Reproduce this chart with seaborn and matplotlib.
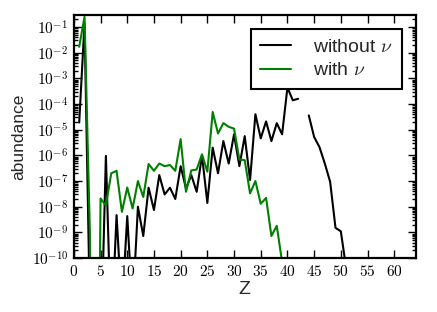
import numpy as np
import pandas as pd
import matplotlib
matplotlib.use("Agg")
import matplotlib.pyplot as plt
from matplotlib.ticker import MultipleLocator, LogLocator, FuncFormatter, NullFormatter
import seaborn as sns

# -------------------------
# Data
# -------------------------
z_without = list(range(1, 52))
abund_without = [
    1.9e-5, 0.14, 1e-12, 1e-20, 1e-14, 9.5e-7, 1e-13, 4.7e-9, 1e-12, 4.3e-9,
    1e-12, 1.0e-8, 7.2e-10, 5.5e-8, 7.4e-9, 1.7e-7, 3.0e-8, 5.5e-8, 2.0e-8, 3.8e-7,
    5.1e-8, 1.7e-7, 3.8e-8, 1.0e-6, 1.4e-8, 2.0e-6, 2.0e-7, 3.6e-6, 4.8e-7, 6.6e-6,
    3.8e-7, 5.6e-6, 1.1e-7, 4.0e-5, 4.6e-6, 2.1e-5, 3.6e-6, 1.8e-5, 6.6e-6, 4.4e-4,
    1.4e-4, 1.6e-4, np.nan, 3.6e-5, 5.2e-6, 2.1e-6, 4.8e-7, 9.3e-8, 1.5e-9, 1.1e-9,
    4e-11,
]

z_with = list(range(1, 40))
abund_with = [
    1.7e-2, 0.25, 1e-9, 1e-30, 2.1e-8, 1.1e-8, 2.0e-7, 2.5e-7, 6.3e-9, 5.6e-8,
    8.5e-9, 1.0e-7, 2.4e-8, 4.6e-7, 2.5e-7, 4.8e-7, 3.8e-7, 4.2e-7, 2.5e-7, 4.3e-6,
    3.8e-8, 2.6e-7, 2.8e-7, 1.1e-6, 2.3e-7, 4.9e-5, 7.1e-6, 1.8e-5, 1.3e-5, 1.1e-5,
    6.9e-7, 6.5e-7, 3.3e-8, 1.0e-7, 1.3e-8, 2.2e-8, 7.2e-10, 1.8e-9, 7e-11,
]

label_without = r"without $\nu$"
label_with = r"with $\nu$"

# -------------------------
# Long table, split into segments where data is missing
# -------------------------
def to_frame(z, a, label):
    df = pd.DataFrame({"Z": z, "abundance": a})
    df["seg"] = df["abundance"].isna().cumsum()
    df = df.dropna()
    df["series"] = label
    df["unit"] = label + "_" + df["seg"].astype(str)
    return df

df = pd.concat([to_frame(z_without, abund_without, label_without),
                to_frame(z_with, abund_with, label_with)], ignore_index=True)

sns.set_style("ticks")
plt.rcParams["font.family"] = ["Liberation Sans", "DejaVu Sans"]
plt.rcParams["mathtext.fontset"] = "cm"
plt.rcParams["mathtext.default"] = "rm"

fig = plt.figure(figsize=(4.37, 3.12), dpi=100)
ax = fig.add_axes([0.169, 0.173, 0.782, 0.779])
ax.set_yscale("log")

sns.lineplot(data=df, x="Z", y="abundance", hue="series", units="unit",
             estimator=None, sort=True, lw=1.5, ax=ax,
             hue_order=[label_without, label_with],
             palette={label_without: "black", label_with: "green"})

ax.set_xlim(0, 64)
ax.set_ylim(1e-10, 10 ** -0.53)

ax.xaxis.set_major_locator(MultipleLocator(5))
ax.xaxis.set_major_formatter(FuncFormatter(lambda v, p: r"$%d$" % v))
ax.yaxis.set_major_locator(LogLocator(base=10, numticks=20))
ax.yaxis.set_minor_locator(LogLocator(base=10, subs=np.arange(2, 10), numticks=20))
ax.yaxis.set_major_formatter(FuncFormatter(lambda v, p: r"$10^{%d}$" % round(np.log10(v))))
ax.yaxis.set_minor_formatter(NullFormatter())

ax.tick_params(which="both", direction="in", top=True, right=True, colors="black",
               labelsize=11, width=1)
ax.tick_params(which="major", length=6, pad=4)
ax.tick_params(which="minor", length=3)
for sp in ax.spines.values():
    sp.set_color("black")
    sp.set_linewidth(1.6)

ax.set_xlabel("Z", fontsize=14, labelpad=2)
ax.set_ylabel("abundance", fontsize=12.5, labelpad=4)

leg = ax.legend(loc="upper right", fontsize=14, frameon=True, fancybox=False,
                framealpha=1, handlelength=1.6, handletextpad=1.1,
                borderpad=0.5, labelspacing=0.3, borderaxespad=0.7)
leg.get_frame().set_edgecolor("black")
leg.get_frame().set_linewidth(1.5)
for line in leg.get_lines():
    line.set_linewidth(1.5)

fig.savefig("out.png", dpi=100)
